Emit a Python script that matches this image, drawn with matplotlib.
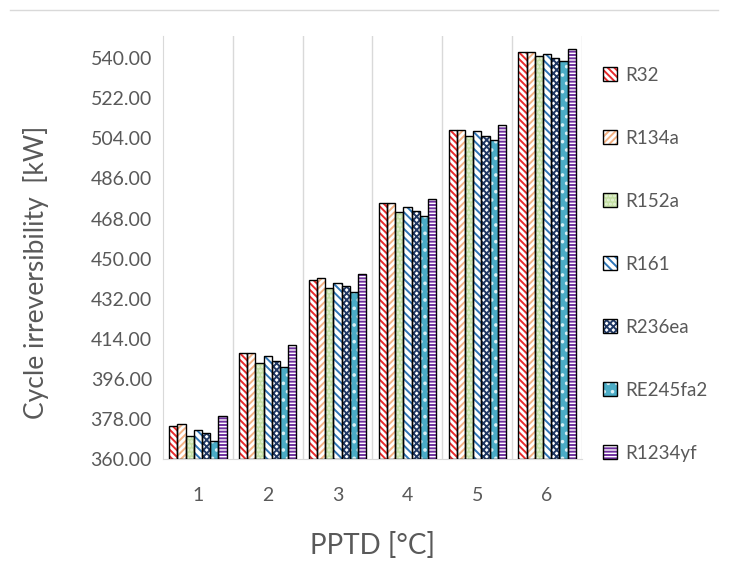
import matplotlib
matplotlib.use("Agg")
import matplotlib.pyplot as plt
import numpy as np
from matplotlib.patches import Patch
from matplotlib.lines import Line2D

plt.rcParams['font.family'] = ['Lato', 'DejaVu Sans']
plt.rcParams['hatch.linewidth'] = 1.4

# data
pptd = ["1", "2", "3", "4", "5", "6"]
refrigerants = ["R32", "R134a", "R152a", "R161", "R236ea", "RE245fa2", "R1234yf"]
r32 = [374.8, 407.7, 440.3, 474.8, 508.0, 542.8]
r134a = [375.6, 407.7, 441.1, 474.8, 508.0, 542.8]
r152a = [370.5, 403.2, 436.9, 471.0, 505.1, 540.9]
r161 = [372.9, 406.2, 439.1, 473.1, 507.2, 542.1]
r236ea = [371.5, 404.1, 437.5, 471.3, 505.3, 540.1]
re245fa2 = [367.9, 401.4, 435.1, 469.1, 503.2, 538.6]
r1234yf = [379.2, 411.2, 443.3, 476.7, 509.9, 544.3]
series = [r32, r134a, r152a, r161, r236ea, re245fa2, r1234yf]

# (face, hatch colour, hatch)
styles = [
    ("white", "#e8292b", "\\\\\\\\\\"),
    ("white", "#f4b183", "/////"),
    ("#c5e0a5", "#e6f2d8", "...."),
    ("white", "#2e75b6", "\\\\\\\\"),
    ("white", "#203864", "xxxxx"),
    ("#4bacc6", "#d8f0f6", ".."),
    ("white", "#7030a0", "-----"),
]

fig = plt.figure(figsize=(7.29, 5.78), dpi=100)
ax = fig.add_axes([163 / 729, 1 - 459 / 578, (582 - 163) / 729, (459 - 36) / 578])

x = np.arange(len(pptd))
w = 0.117
handles = []
for i, (vals, (fc, hc, h)) in enumerate(zip(series, styles)):
    pos = x + (i - 3) * w
    ax.bar(pos, np.array(vals) - 360, bottom=360, width=w, color=fc,
           edgecolor=hc, hatch=h, linewidth=0, zorder=2)
    ax.bar(pos, np.array(vals) - 360, bottom=360, width=w, fill=False,
           edgecolor="black", linewidth=1.0, zorder=3)
    handles.append((Patch(facecolor=fc, edgecolor=hc, hatch=h, linewidth=0),
                    Patch(fill=False, edgecolor="black", linewidth=1.0)))

for b in np.arange(0.5, 5.6, 1):
    ax.axvline(b, color="#d9d9d9", linewidth=1, zorder=1)

ax.set_xlim(-0.5, 5.5)
ax.set_ylim(360, 550)
ax.set_yticks(np.arange(360, 541, 18))
ax.set_yticklabels(["%.2f" % v for v in np.arange(360, 541, 18)])
ax.set_xticks(x)
ax.set_xticklabels(pptd)
ax.tick_params(length=0, labelsize=14, colors="#595959", pad=8)
ax.tick_params(axis="x", pad=20)
for s in ["top", "right"]:
    ax.spines[s].set_visible(False)
ax.spines["left"].set_color("#d9d9d9")
ax.spines["bottom"].set_color("#d9d9d9")

ax.set_ylabel("Cycle irreversibility  [kW]", fontsize=19, color="#595959")
ax.yaxis.set_label_coords(-0.273, 0.442)
ax.set_xlabel("PPTD [°C]", fontsize=20, color="#595959", labelpad=20)

leg = fig.legend(handles, refrigerants, loc="upper left", bbox_to_anchor=(586 / 729, 1 - 50 / 578),
                 frameon=False, fontsize=13.5, labelspacing=2.45, handlelength=0.75,
                 handleheight=0.75, handletextpad=0.45, labelcolor="#595959")

fig.add_artist(Line2D([10 / 729, 718 / 729], [1 - 10 / 578, 1 - 10 / 578], color="#d9d9d9", linewidth=1))

fig.savefig("out.png", dpi=100)
